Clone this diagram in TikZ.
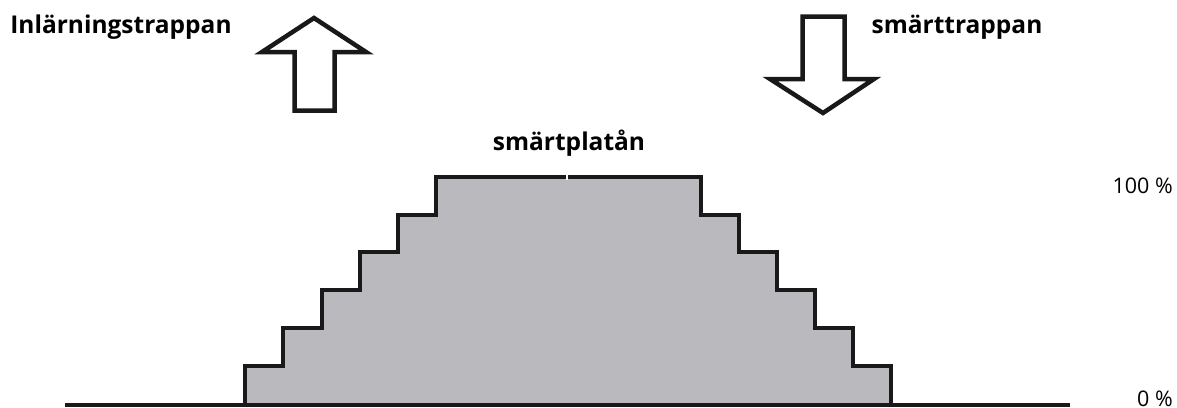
\documentclass[tikz,border=0pt]{standalone}
\usepackage{fontspec}
\setmainfont{Open Sans}
\usetikzlibrary{positioning}

\begin{document}
\begin{tikzpicture}[
    x=1pt, y=-1pt,
    stair/.style={draw=black!90, line width=4.5pt, fill=black!25!blue!3!white!75!black, line join=miter},
    bigarrow/.style={draw=black!90, line width=4.5pt, fill=white, line join=miter},
    title/.style={font=\fontsize{24.5}{28}\selectfont\bfseries, inner sep=0pt},
    level/.style={font=\fontsize{21.5}{26}\selectfont, inner sep=0pt},
    axis/.style={draw=black!90, line width=4pt}
]
\useasboundingbox (0,0) rectangle (1177,407);

% Staircase
\draw[stair] (245,405) -- (245,366) -- (283,366) -- (283,328) -- (322,328) -- (322,290)
    -- (360,290) -- (360,252) -- (398,252) -- (398,215) -- (436,215) -- (436,177)
    -- (701,177) -- (701,215) -- (739,215) -- (739,252) -- (777,252) -- (777,290)
    -- (815,290) -- (815,328) -- (853,328) -- (853,366) -- (891,366) -- (891,405);
\draw[white, line width=1.2pt] (567,174) -- (567,180);

% Baseline
\draw[axis] (65,405) -- (1070,405);

% Up arrow
\draw[bigarrow] (294.5,110.5) -- (294.5,52) -- (262,52) -- (314,18) -- (366,52)
    -- (334.5,52) -- (334.5,110.5) -- cycle;

% Down arrow
\draw[bigarrow] (802.5,16.5) -- (802.5,79) -- (770,79) -- (823,113) -- (874,79)
    -- (844.5,79) -- (844.5,16.5) -- cycle;

% Labels
\node[title] (learn) at (121,27) {Inlärningstrappan};
\node[title] (pain) at (957,27) {smärttrappan};
\node[title] (plateau) at (569,143) {smärtplatån};
\node[level, anchor=east] (full) at (1173,186) {100 \%};
\node[level, anchor=south east] (zero) at (1173,406.5) {0 \%};

\end{tikzpicture}
\end{document}
